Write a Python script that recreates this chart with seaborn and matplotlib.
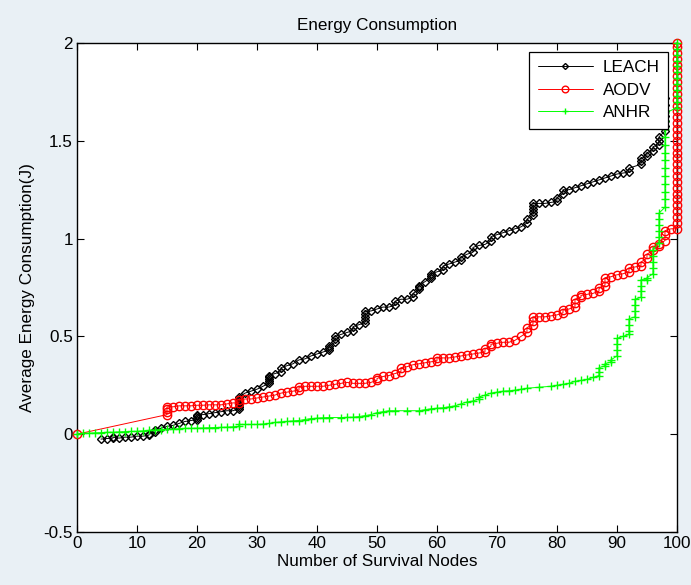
import numpy as np
import pandas as pd
import matplotlib
matplotlib.use("Agg")
import matplotlib.pyplot as plt
import seaborn as sns

# ---------------- data ----------------
leach_x = [4, 5, 6, 6, 7, 8, 9, 10, 11, 12, 12, 13, 13, 14, 15, 16, 17, 18, 19,
           20, 20, 20, 20, 21, 22, 23, 24, 25, 26, 27, 27, 27, 27, 27, 27, 27,
           28, 29, 30, 31,
           32, 32, 32, 32, 32, 33, 34, 34, 35, 36, 37, 38, 39, 40, 41, 42, 42,
           42, 43, 43, 43,
           44, 45, 46, 46, 47, 48, 48, 48, 48, 48, 49, 50, 51, 52, 53, 53, 54,
           55, 56, 56, 57, 57, 57, 58, 59, 59, 59, 60, 61, 61, 62, 63, 64, 64,
           65, 66, 66, 67,
           68, 69, 69, 70, 71, 72, 73, 74, 75, 75, 76, 76, 76, 76, 76, 77, 78,
           79, 80, 80, 81, 81, 82, 83, 84, 85, 86, 87, 88, 89, 90, 91, 92, 92,
           94, 94, 94, 95, 95, 96, 96, 97, 97, 97, 98, 98, 98, 98, 98, 98, 98]
leach_y = [-0.025, -0.022, -0.02, -0.015, -0.02, -0.015, -0.015, -0.01, -0.01,
           -0.005, 0.0, 0.01, 0.02, 0.03, 0.04, 0.045, 0.055, 0.065, 0.07,
           0.075, 0.085, 0.093, 0.1, 0.1, 0.105, 0.11, 0.115, 0.12, 0.12,
           0.13, 0.14, 0.15, 0.16, 0.17, 0.18, 0.19, 0.21, 0.22, 0.23, 0.245,
           0.26, 0.27, 0.28, 0.29, 0.3, 0.31, 0.32, 0.34, 0.35, 0.36, 0.38,
           0.385, 0.4, 0.41, 0.42, 0.43, 0.44, 0.45, 0.47, 0.485, 0.5,
           0.51, 0.52, 0.53, 0.55, 0.56, 0.57, 0.585, 0.6, 0.615, 0.63, 0.63,
           0.64, 0.65, 0.65, 0.66, 0.68, 0.69, 0.69, 0.7, 0.72, 0.74, 0.75,
           0.76, 0.78, 0.8, 0.81, 0.82, 0.83, 0.84, 0.86, 0.87, 0.88, 0.89,
           0.905, 0.92, 0.93, 0.955, 0.965,
           0.97, 0.99, 1.01, 1.02, 1.03, 1.04, 1.05, 1.06, 1.08, 1.1, 1.12,
           1.135, 1.15, 1.165, 1.18, 1.18, 1.18, 1.185, 1.19, 1.21, 1.23,
           1.25, 1.25, 1.26, 1.27, 1.28, 1.29, 1.3, 1.31, 1.32, 1.33, 1.335,
           1.34, 1.36, 1.38, 1.395, 1.41, 1.42, 1.44, 1.45, 1.47, 1.48, 1.5,
           1.52, 1.55, 1.575, 1.6, 1.625, 1.65, 1.685, 1.72]

aodv_x = [0, 15, 15, 15, 15, 16, 17, 18, 19, 20, 21, 22, 23, 24, 25, 26, 27, 27,
          28, 29, 30, 31, 32, 33, 34, 35, 36, 37, 37, 38, 39, 40, 41, 42, 43,
          44, 45, 46, 47, 48, 49, 50, 50, 51, 52, 53, 54, 54, 55, 56, 57, 58,
          59, 60, 60, 61, 62, 63, 64, 65, 66, 67, 68, 68, 69, 69, 70, 71, 72,
          73, 74, 75, 75, 76, 76, 76, 77, 78, 79, 80, 81, 81, 82, 83, 83, 83,
          84, 84, 85, 86, 87, 87, 88, 88, 88, 89, 90, 91, 92, 92, 93, 94, 94,
          95, 95, 96, 96, 97, 97, 98, 98, 98, 99,
          100, 100, 100, 100, 100, 100, 100, 100, 100, 100, 100, 100, 100, 100,
          100, 100, 100, 100, 100, 100, 100, 100, 100, 100, 100, 100, 100, 100,
          100, 100, 100, 100, 100]
aodv_y = [0.0, 0.10, 0.115, 0.13, 0.14, 0.14, 0.145, 0.145, 0.145, 0.148,
          0.148, 0.15, 0.15, 0.15, 0.155, 0.16, 0.16, 0.175, 0.18, 0.18,
          0.185, 0.19, 0.195, 0.2, 0.21, 0.215, 0.22, 0.225, 0.24, 0.245,
          0.245, 0.245, 0.245, 0.25, 0.255, 0.26, 0.265, 0.26, 0.26, 0.26,
          0.265, 0.275, 0.285, 0.295, 0.3, 0.31, 0.32, 0.34, 0.345, 0.355,
          0.36, 0.365, 0.37, 0.375, 0.39, 0.39, 0.39, 0.395, 0.4, 0.405, 0.41,
          0.415, 0.42, 0.435, 0.45, 0.46, 0.465, 0.47, 0.47, 0.48, 0.5, 0.52,
          0.545, 0.56, 0.58, 0.6, 0.6, 0.6, 0.605, 0.61, 0.62, 0.635, 0.64,
          0.65, 0.67, 0.69, 0.7, 0.71, 0.715, 0.72, 0.73, 0.745, 0.76, 0.78,
          0.8, 0.805, 0.815, 0.82, 0.83, 0.85, 0.855, 0.86, 0.88, 0.9, 0.92,
          0.94, 0.955, 0.96, 0.97, 0.99, 1.02, 1.04, 1.05,
          1.05, 1.08, 1.11, 1.14, 1.17, 1.2, 1.23, 1.26, 1.29, 1.32, 1.35,
          1.38, 1.41, 1.44, 1.47, 1.5, 1.53, 1.56, 1.59, 1.62, 1.65, 1.68,
          1.71, 1.74, 1.77, 1.8, 1.83, 1.86, 1.89, 1.92, 1.95, 1.98, 2.0]

anhr_x = [0, 1, 2, 3, 4, 5, 6, 7, 8, 9, 10, 11, 12, 13, 14, 15, 16, 17, 18, 19,
          20, 21, 22, 23, 24, 25, 26, 27, 27, 28, 29, 30, 31, 32, 33, 34, 35,
          36, 37, 38, 39, 40, 41, 42, 44, 45, 46, 47, 48, 49, 50, 51, 52, 53,
          55, 57, 58, 59, 60, 61, 62, 63, 64, 65, 66, 67, 67, 68, 69, 70, 71,
          72, 73, 74, 75, 77, 79, 80, 81, 82, 83, 84, 85, 86, 87, 87, 87, 88,
          88, 89, 89, 90, 90, 90, 90, 91, 92, 92, 92, 92, 93, 93, 93, 93, 94,
          94, 94, 94, 95, 95, 96, 96, 96, 96, 96, 97, 97, 97, 97, 97, 97,
          98, 98, 98, 98, 98, 98, 98, 98, 98, 98, 98, 98, 98,
          100, 100, 100, 100, 100, 100, 100, 100, 100, 100, 100, 100]
anhr_y = [0.0, 0.005, 0.005, 0.007, 0.008, 0.01, 0.01, 0.012, 0.013, 0.014,
          0.015, 0.017, 0.02, 0.022, 0.024, 0.025, 0.026, 0.028, 0.03, 0.03,
          0.031, 0.032, 0.033, 0.034, 0.035, 0.036, 0.038, 0.04, 0.05, 0.05,
          0.05, 0.05, 0.052, 0.055, 0.06, 0.063, 0.065, 0.068, 0.07, 0.075,
          0.08, 0.082, 0.084, 0.085, 0.085, 0.086, 0.087, 0.09, 0.095, 0.1,
          0.11, 0.115, 0.12, 0.12, 0.12, 0.12, 0.125, 0.13, 0.133, 0.135,
          0.14, 0.145, 0.155, 0.165, 0.17, 0.18, 0.19, 0.2, 0.21, 0.215, 0.22,
          0.222, 0.225, 0.23, 0.235, 0.24, 0.245, 0.25, 0.255, 0.26, 0.27,
          0.275, 0.28, 0.29, 0.3, 0.32, 0.34, 0.35, 0.36, 0.37, 0.38, 0.4,
          0.43, 0.46, 0.49, 0.5, 0.51, 0.53, 0.56, 0.59, 0.6, 0.63, 0.66,
          0.69, 0.7, 0.73, 0.76, 0.79, 0.79, 0.8, 0.82, 0.85, 0.88, 0.91,
          0.94, 0.98, 1.01, 1.04, 1.07, 1.1, 1.13,
          1.16, 1.2, 1.24, 1.28, 1.32, 1.36, 1.4, 1.44, 1.48, 1.52, 1.56,
          1.6, 1.64,
          1.67, 1.70, 1.73, 1.76, 1.79, 1.82, 1.85, 1.88, 1.91, 1.94, 1.97,
          2.0]

series_names = ["LEACH", "AODV", "ANHR"]
x_ticks = [0, 10, 20, 30, 40, 50, 60, 70, 80, 90, 100]
y_ticks = [-0.5, 0, 0.5, 1, 1.5, 2]
y_tick_labels = ["-0.5", "0", "0.5", "1", "1.5", "2"]

# ---------------- style ----------------
sns.set_style("ticks")
plt.rcParams["font.family"] = ["Liberation Sans", "DejaVu Sans"]
plt.rcParams["text.color"] = "black"
plt.rcParams["axes.labelcolor"] = "black"
plt.rcParams["xtick.color"] = "black"
plt.rcParams["ytick.color"] = "black"
FS = 12.3

fig = plt.figure(figsize=(6.91, 5.85), dpi=100, facecolor="#e9f0f5")
ax = fig.add_axes([0.1114, 0.0906, 0.8683, 0.8359])
ax.set_facecolor("white")

specs = [
    (leach_x, leach_y, "#000000", "D", 3.8),
    (aodv_x, aodv_y, "#ff0000", "o", 6.0),
    (anhr_x, anhr_y, "#00ff00", "+", 5.5),
]
for name, (xs, ys, col, mk, ms) in zip(series_names, specs):
    df = pd.DataFrame({"x": xs, "y": ys})
    sns.lineplot(data=df, x="x", y="y", ax=ax, estimator=None, sort=False,
                 color=col, linewidth=0.7, marker=mk, markersize=ms,
                 markerfacecolor="none", markeredgecolor=col,
                 markeredgewidth=1.0, label=name, clip_on=False, zorder=3)

ax.set_xlim(0, 100)
ax.set_ylim(-0.5, 2)
ax.set_xticks(x_ticks)
ax.set_xticklabels([str(t) for t in x_ticks], fontsize=FS, color="black")
ax.set_yticks(y_ticks)
ax.set_yticklabels(y_tick_labels, fontsize=FS, color="black")
ax.tick_params(direction="in", length=5, width=0.8, top=True, right=True,
               pad=3, colors="black")
for sp in ax.spines.values():
    sp.set_visible(True)
    sp.set_color("black")
    sp.set_linewidth(1.0)

ax.set_title("Energy Consumption", fontsize=FS, pad=9, color="black")
ax.set_xlabel("Number of Survival Nodes", fontsize=FS, labelpad=2, color="black")
ax.set_ylabel("Average Energy Consumption(J)", fontsize=FS, labelpad=6,
              color="black")

leg = ax.legend(loc="upper right", fontsize=FS, frameon=True, fancybox=False,
                edgecolor="black", framealpha=1, handlelength=3.2,
                borderaxespad=0.5, labelspacing=0.45, borderpad=0.5,
                handletextpad=0.6)
leg.get_frame().set_linewidth(0.9)
for t in leg.get_texts():
    t.set_color("black")
for lh in leg.get_lines():
    lh.set_markersize(lh.get_markersize() * 0.8)

fig.savefig("out.png", dpi=100, facecolor=fig.get_facecolor())
